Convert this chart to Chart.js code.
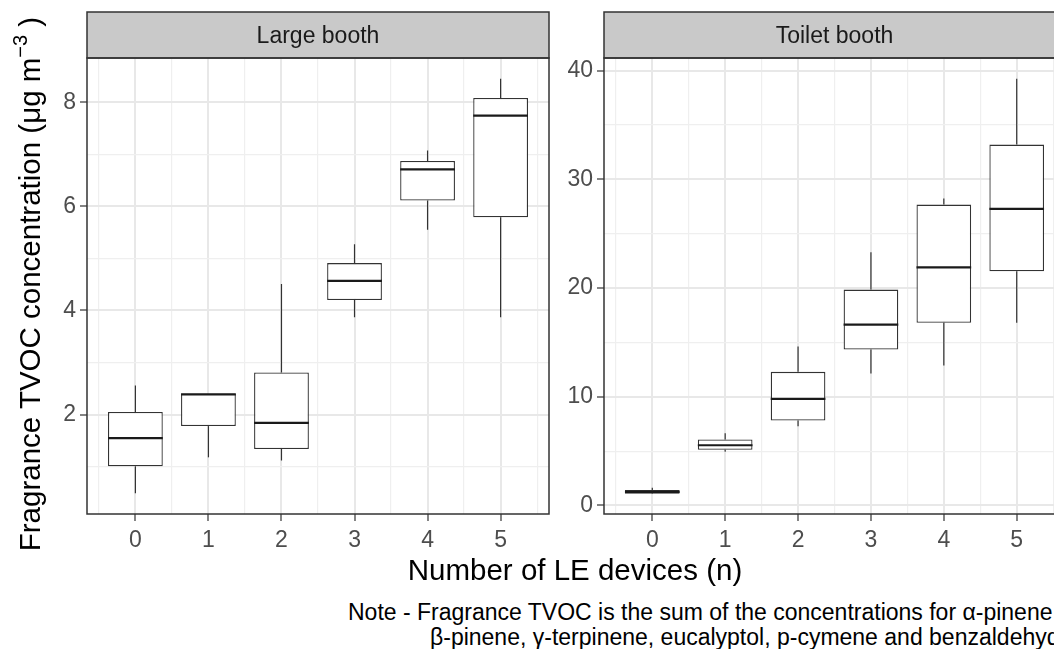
<!DOCTYPE html>
<html>
<head>
<meta charset="utf-8">
<script src="https://cdn.jsdelivr.net/npm/chart.js@4.4.1/dist/chart.umd.min.js"></script>
<style>
  html, body { margin: 0; padding: 0; background: #fff; overflow: hidden; width: 1054px; height: 649px; }
  body { position: relative; font-family: 'Liberation Sans', Arial, sans-serif; }
  canvas { position: absolute; top: 0; }
  #c1 { left: 0; }
  #c2 { left: 560px; }
  .txt { position: absolute; white-space: nowrap; color: #000; }
  #ytitle { left: -280px; top: 264px; width: 620px; height: 40px; line-height: 40px; font-size: 29.5px;
            text-align: center; transform: rotate(-90deg); }
  #ytitle .sup { font-size: 20px; position: relative; top: -13px; }
  #xtitle { left: 275px; top: 553px; width: 600px; line-height: 34px; font-size: 29.5px; text-align: center; }
  .note { font-size: 23px; line-height: 25px; }
</style>
</head>
<body>
<canvas id="c1" width="552" height="556"></canvas>
<canvas id="c2" width="510" height="556"></canvas>
<div id="ytitle" class="txt">Fragrance TVOC concentration (μg m<span class="sup">−3</span> )</div>
<div id="xtitle" class="txt">Number of LE devices (n)</div>
<div class="txt note" style="left:348px; top:600px;">Note - Fragrance TVOC is the sum of the concentrations for α-pinene,</div>
<div class="txt note" style="left:430px; top:625px;">β-pinene, γ-terpinene, eucalyptol, p-cymene and benzaldehyde</div>

<script>
// ---- data ----
const devices = [0, 1, 2, 3, 4, 5];

// Large booth
const largeMin = [0.49, 1.18, 1.12, 3.87, 5.55, 3.87];
const largeQ1  = [1.01, 1.78, 1.34, 4.20, 6.11, 5.79];
const largeMed = [1.55, 2.39, 1.84, 4.57, 6.71, 7.74];
const largeQ3  = [2.05, 2.40, 2.81, 4.91, 6.87, 8.08];
const largeMax = [2.56, 2.40, 4.51, 5.27, 7.07, 8.45];
const largeTicks = [2, 4, 6, 8];
const largeMinorTicks = [1, 3, 5, 7];

// Toilet booth
const toiletMin = [1.12, 4.94, 7.29, 12.14, 12.87, 16.80];
const toiletQ1  = [1.08, 5.12, 7.82, 14.34, 16.80, 21.54];
const toiletMed = [1.25, 5.54, 9.81, 16.64, 21.91, 27.28];
const toiletQ3  = [1.42, 6.07, 12.29, 19.86, 27.68, 33.20];
const toiletMax = [1.63, 6.65, 14.62, 23.29, 28.23, 39.26];
const toiletTicks = [0, 10, 20, 30, 40];
const toiletMinorTicks = [5, 15, 25, 35];

const boxWidth = 0.75;

Chart.defaults.font.family = "'Liberation Sans', Arial, sans-serif";
Chart.defaults.color = '#4D4D4D';

// whiskers + median on top of the floating bars
const boxplotParts = {
  id: 'boxplotParts',
  afterDatasetsDraw(chart) {
    const ctx = chart.ctx;
    const ys = chart.scales.y;
    chart.data.datasets.forEach((ds, di) => {
      const meta = chart.getDatasetMeta(di);
      meta.data.forEach((bar, i) => {
        const half = bar.width / 2;
        ctx.save();
        ctx.strokeStyle = '#333333';
        ctx.lineWidth = 1.2;
        ctx.beginPath();
        ctx.moveTo(bar.x, ys.getPixelForValue(ds.q3[i]));
        ctx.lineTo(bar.x, ys.getPixelForValue(ds.max[i]));
        ctx.moveTo(bar.x, ys.getPixelForValue(ds.q1[i]));
        ctx.lineTo(bar.x, ys.getPixelForValue(ds.min[i]));
        ctx.stroke();
        ctx.strokeStyle = '#1A1A1A';
        ctx.lineWidth = 2.2;
        ctx.beginPath();
        const ym = ys.getPixelForValue(ds.med[i]);
        ctx.moveTo(bar.x - half, ym);
        ctx.lineTo(bar.x + half, ym);
        ctx.stroke();
        ctx.restore();
      });
    });
  }
};

// facet strip and panel border
const facet = {
  id: 'facet',
  afterDraw(chart, args, opts) {
    const { ctx, chartArea: a } = chart;
    const h = opts.stripHeight;
    ctx.save();
    ctx.fillStyle = '#C9C9C9';
    ctx.fillRect(a.left, a.top - h, a.right - a.left, h);
    ctx.strokeStyle = '#333333';
    ctx.lineWidth = 1.5;
    ctx.strokeRect(a.left, a.top - h, a.right - a.left, h);
    ctx.strokeRect(a.left, a.top, a.right - a.left, a.bottom - a.top);
    ctx.fillStyle = '#1A1A1A';
    ctx.font = "23px 'Liberation Sans', Arial, sans-serif";
    ctx.textAlign = 'center';
    ctx.textBaseline = 'middle';
    ctx.fillText(opts.text, (a.left + a.right) / 2, a.top - h / 2 + 1.5);
    ctx.restore();
  }
};

function tickList(major, minor) {
  return major.map(v => ({ value: v }))
    .concat(minor.map(v => ({ value: v, minor: true })))
    .sort((p, q) => p.value - q.value);
}

function makePanel(id, title, mins, q1s, meds, q3s, maxs, yMajor, yMinor, pad, yWidth) {
  // ggplot-like 5% expansion
  const lo = Math.min(...mins), hi = Math.max(...maxs);
  const yMin = lo - 0.05 * (hi - lo), yMax = hi + 0.05 * (hi - lo);
  const xLo = devices[0] - boxWidth / 2, xHi = devices[devices.length - 1] + boxWidth / 2;
  const xMin = xLo - 0.05 * (xHi - xLo), xMax = xHi + 0.05 * (xHi - xLo);
  const xMinor = devices.map(d => d - 0.5).concat([devices[devices.length - 1] + 0.5]);

  const grid = {
    color: c => (c.tick && c.tick.minor ? '#EFEFEF' : '#E8E8E8'),
    lineWidth: c => (c.tick && c.tick.minor ? 1.2 : 2),
    tickColor: c => (c.tick && c.tick.minor ? 'rgba(0,0,0,0)' : '#333333'),
    tickWidth: 1.2,
    tickLength: 7,
    offset: false
  };

  return new Chart(document.getElementById(id), {
    type: 'bar',
    data: {
      datasets: [{
        data: devices.map((d, i) => ({ x: d, y: [q1s[i], q3s[i]] })),
        min: mins, q1: q1s, med: meds, q3: q3s, max: maxs,
        backgroundColor: '#FFFFFF',
        borderColor: '#333333',
        borderWidth: 1.3,
        borderSkipped: false,
        categoryPercentage: 1,
        // bar ruler uses the half-step grid ticks, so 0.75 units = 1.5 * 0.5
        barPercentage: boxWidth / 0.5
      }]
    },
    options: {
      responsive: false,
      animation: false,
      devicePixelRatio: 1,
      events: [],
      layout: { padding: pad },
      plugins: {
        legend: { display: false },
        tooltip: { enabled: false },
        facet: { text: title, stripHeight: 46 }
      },
      scales: {
        x: {
          type: 'linear',
          min: xMin, max: xMax,
          offset: false,
          bounds: 'data',
          border: { display: false },
          grid: grid,
          afterBuildTicks: s => { s.ticks = tickList(devices, xMinor); },
          afterFit: s => { s.height = 42; },
          ticks: {
            autoSkip: false, maxRotation: 0, minRotation: 0, padding: 6,
            font: { size: 23 },
            callback: (v, i, t) => (t[i].minor ? '' : String(v))
          }
        },
        y: {
          type: 'linear',
          min: yMin, max: yMax,
          bounds: 'data',
          border: { display: false },
          grid: grid,
          afterBuildTicks: s => { s.ticks = tickList(yMajor, yMinor); },
          afterFit: s => { s.width = yWidth; },
          ticks: {
            autoSkip: false, padding: 4,
            font: { size: 23 },
            callback: (v, i, t) => (t[i].minor ? '' : String(v))
          }
        }
      }
    },
    plugins: [boxplotParts, facet]
  });
}

makePanel('c1', 'Large booth', largeMin, largeQ1, largeMed, largeQ3, largeMax,
  largeTicks, largeMinorTicks, { left: 56, top: 58, right: 3, bottom: 0 }, 31);
makePanel('c2', 'Toilet booth', toiletMin, toiletQ1, toiletMed, toiletQ3, toiletMax,
  toiletTicks, toiletMinorTicks, { left: 0, top: 58, right: 5, bottom: 0 }, 44);
</script>
</body>
</html>
